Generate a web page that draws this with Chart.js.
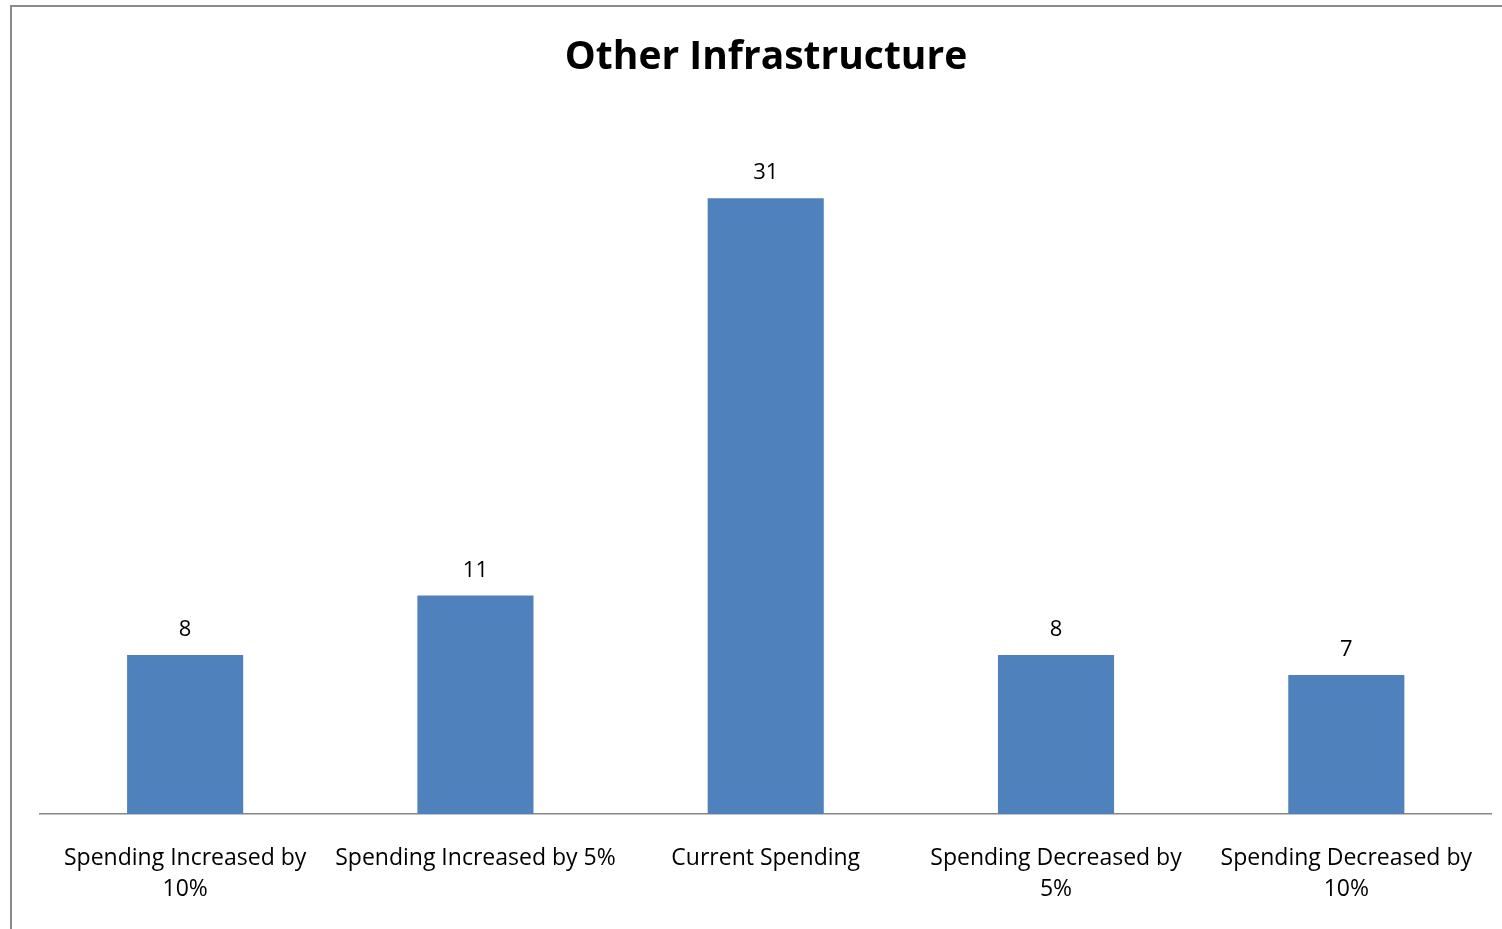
<!DOCTYPE html>
<html>
<head>
<meta charset="utf-8">
<style>
  html, body { margin: 0; padding: 0; background: #fff; }
  #wrap { width: 1502px; height: 929px; position: relative; }
</style>
<script src="https://cdn.jsdelivr.net/npm/chart.js@4/dist/chart.umd.min.js"></script>
</head>
<body>
<div id="wrap"><canvas id="chart" width="1502" height="929"></canvas></div>
<script>
// Survey responses for "Other Infrastructure"
const categories = [
  ["Spending Increased by", "10%"],
  "Spending Increased by 5%",
  "Current Spending",
  ["Spending Decreased by", "5%"],
  ["Spending Decreased by", "10%"]
];
const responses = [8, 11, 31, 8, 7];
const chartTitle = "Other Infrastructure";

const FONT = "'Open Sans', 'Noto Sans', sans-serif";

// White page with the thin gray frame on the left and top edges
const framePlugin = {
  id: 'frame',
  beforeDraw(chart) {
    const ctx = chart.ctx;
    ctx.save();
    ctx.fillStyle = '#ffffff';
    ctx.fillRect(0, 0, chart.width, chart.height);
    ctx.strokeStyle = '#8a8a8a';
    ctx.lineWidth = 2;
    ctx.beginPath();
    ctx.moveTo(11, chart.height);
    ctx.lineTo(11, 6);
    ctx.lineTo(chart.width, 6);
    ctx.stroke();
    ctx.restore();
  }
};

// Value printed above each bar
const valueLabels = {
  id: 'valueLabels',
  afterDatasetsDraw(chart) {
    const ctx = chart.ctx;
    const meta = chart.getDatasetMeta(0);
    const data = chart.data.datasets[0].data;
    ctx.save();
    ctx.font = `22px ${FONT}`;
    ctx.fillStyle = '#000000';
    ctx.textAlign = 'center';
    ctx.textBaseline = 'alphabetic';
    meta.data.forEach((bar, i) => {
      ctx.fillText(String(data[i]), bar.x, bar.y - 19);
    });
    ctx.restore();
  }
};

new Chart(document.getElementById('chart'), {
  type: 'bar',
  data: {
    labels: categories,
    datasets: [{
      data: responses,
      backgroundColor: '#4F81BD',
      borderWidth: 0,
      categoryPercentage: 1.0,
      barPercentage: 0.4
    }]
  },
  options: {
    responsive: false,
    animation: false,
    layout: { padding: { left: 40, right: 10, top: 0, bottom: 0 } },
    plugins: {
      legend: { display: false },
      tooltip: { enabled: false },
      title: {
        display: true,
        text: chartTitle,
        color: '#000000',
        font: { family: FONT, size: 39, weight: 'bold', lineHeight: 1.2 },
        padding: { top: 34, bottom: 38 }
      }
    },
    scales: {
      x: {
        grid: { display: false, drawTicks: false },
        border: { display: true, color: '#868686', width: 1.5 },
        ticks: {
          color: '#000000',
          font: { family: FONT, size: 23, lineHeight: 1.35 },
          padding: 29,
          maxRotation: 0,
          autoSkip: false
        },
        afterFit(scale) { scale.height = 115; }
      },
      y: {
        display: false,
        min: 0,
        max: 35
      }
    }
  },
  plugins: [framePlugin, valueLabels]
});
</script>
</body>
</html>
